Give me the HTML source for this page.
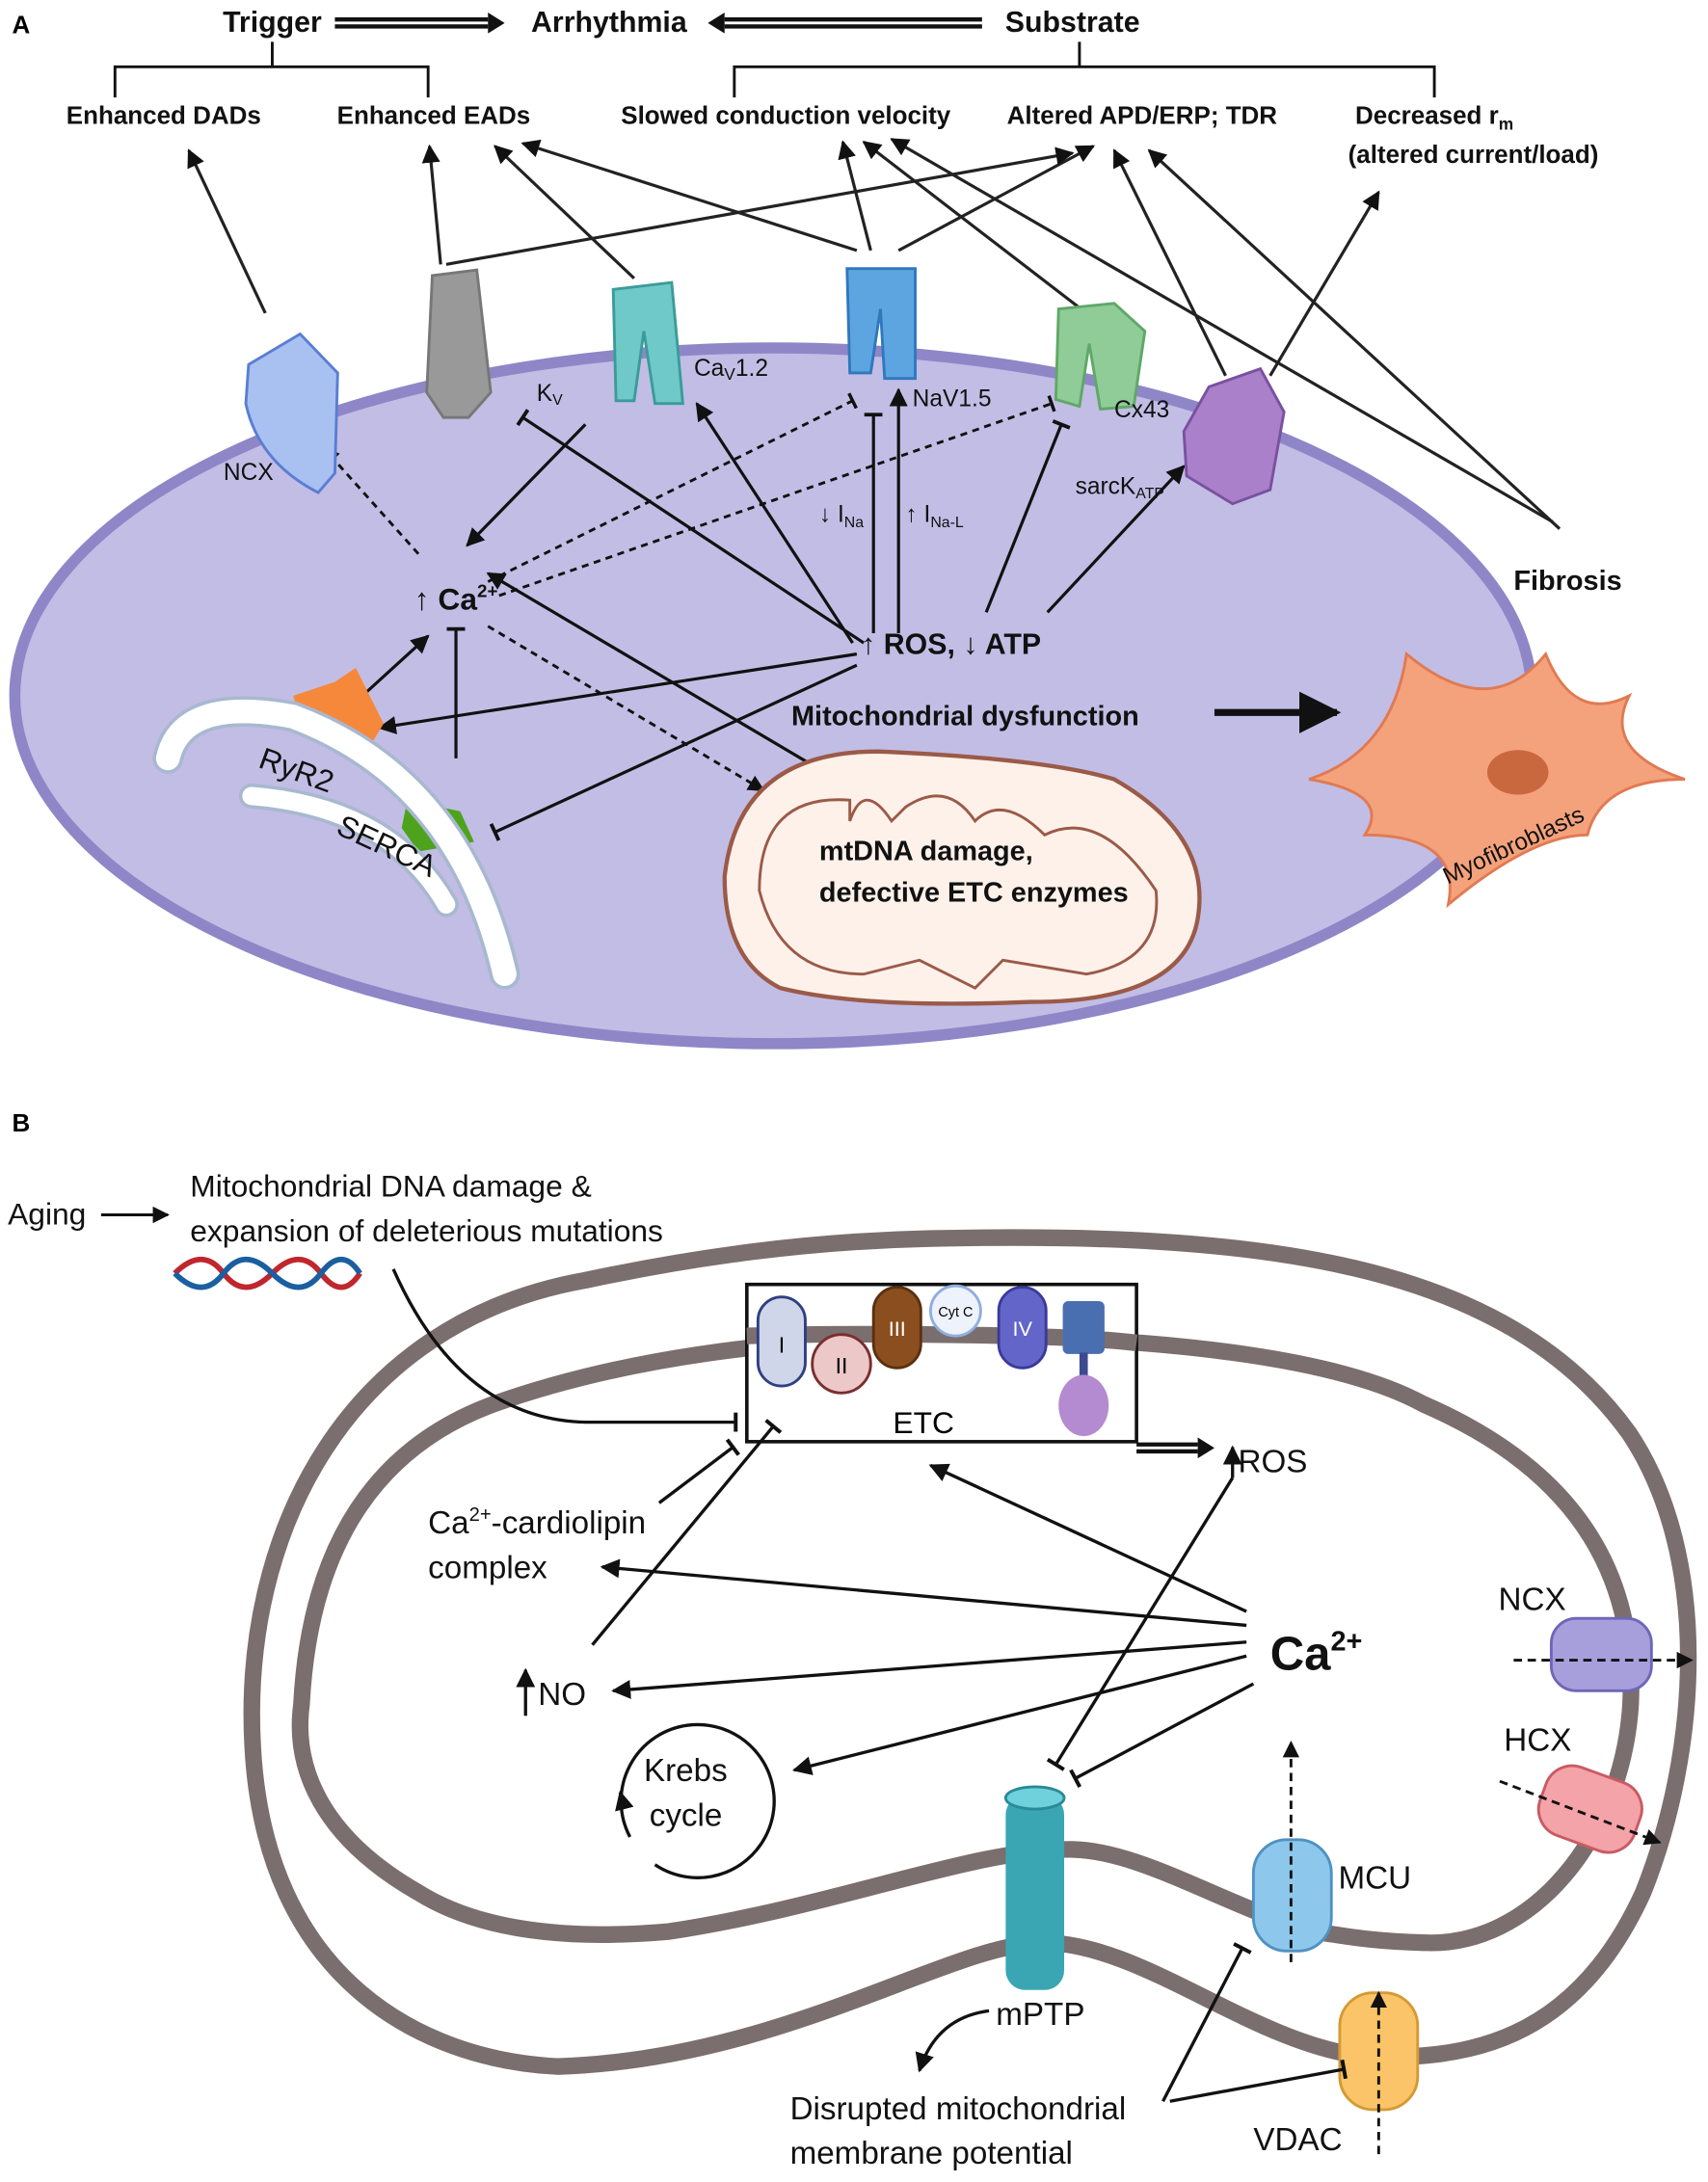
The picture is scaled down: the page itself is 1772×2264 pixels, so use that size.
<!DOCTYPE html>
<html><head><meta charset="utf-8"><style>
html,body{margin:0;padding:0;background:#fff}
svg{display:block}
text{font-family:"Liberation Sans",sans-serif}
.b{font-weight:bold}
</style></head><body>
<svg width="1772" height="2264" viewBox="0 0 1226 1568" xmlns="http://www.w3.org/2000/svg">
<defs>
<marker id="ah" viewBox="0 0 10 10" refX="9" refY="5" markerWidth="6" markerHeight="6" orient="auto"><path d="M0,0L10,5L0,10z" fill="#111"/></marker>
<marker id="tb" viewBox="0 0 10 10" refX="5" refY="5" markerWidth="6" markerHeight="6" orient="auto"><path d="M5,0V10" stroke="#111" stroke-width="2"/></marker>
</defs>
<text x="8" y="24" class="b" font-size="18">A</text>
<g class="b" font-size="21" fill="#111">
<text x="195" y="23" text-anchor="middle" class="b">Trigger</text>
<text x="437" y="23" text-anchor="middle" class="b">Arrhythmia</text>
<text x="770" y="23" text-anchor="middle" class="b">Substrate</text>
</g>
<path d="M240,14H350M240,19H350" stroke="#111" stroke-width="3"/><path d="M350,9L362,16.5L350,24z" fill="#111"/>
<path d="M520,14H705M520,19H705" stroke="#111" stroke-width="3"/><path d="M520,9L508,16.5L520,24z" fill="#111"/>
<path d="M82,70V48H307V70M195,48V30M527,70V48H1030V70M775,48V30" fill="none" stroke="#111" stroke-width="2"/>
<g font-size="18" font-weight="bold" fill="#111" text-anchor="middle">
<text x="117" y="89" class="b">Enhanced DADs</text>
<text x="311" y="89" class="b">Enhanced EADs</text>
<text x="564" y="89" class="b">Slowed conduction velocity</text>
<text x="820" y="89" class="b">Altered APD/ERP; TDR</text>
<text x="1030" y="89" class="b">Decreased r<tspan font-size="12" dy="4">m</tspan></text>
<text x="1058" y="117" class="b">(altered current/load)</text>
</g>
<ellipse cx="555" cy="500" rx="545" ry="250" fill="#c2bde5" stroke="#8f86c8" stroke-width="8"/>
<g stroke="#222" stroke-width="2.2" fill="none" marker-end="url(#ah)">
<line x1="190" y1="225" x2="135" y2="108"/>
<line x1="316" y1="190" x2="308" y2="105"/>
<line x1="455" y1="200" x2="355" y2="105"/>
<line x1="615" y1="180" x2="375" y2="103"/>
<line x1="625" y1="180" x2="605" y2="102"/>
<line x1="645" y1="180" x2="785" y2="105"/>
<line x1="320" y1="190" x2="770" y2="110"/>
<line x1="780" y1="225" x2="620" y2="102"/>
<line x1="880" y1="270" x2="800" y2="108"/>
<line x1="912" y1="270" x2="990" y2="138"/>
<line x1="1115" y1="375" x2="640" y2="100"/>
<line x1="1120" y1="380" x2="825" y2="108"/>
</g>
<g stroke="#111" stroke-width="2.2" fill="none">
<line x1="620" y1="462" x2="375" y2="300" marker-end="url(#tb)"/>
<line x1="420" y1="305" x2="335" y2="392" marker-end="url(#ah)"/>
<line x1="612" y1="462" x2="500" y2="290" marker-end="url(#ah)"/>
<line x1="627" y1="455" x2="627" y2="298" marker-end="url(#tb)"/>
<line x1="645" y1="455" x2="645" y2="280" marker-end="url(#ah)"/>
<line x1="708" y1="440" x2="762" y2="305" marker-end="url(#tb)"/>
<line x1="752" y1="440" x2="850" y2="335" marker-end="url(#ah)"/>
<line x1="615" y1="470" x2="272" y2="523" marker-end="url(#ah)"/>
<line x1="615" y1="478" x2="355" y2="598" marker-end="url(#tb)"/>
<line x1="580" y1="548" x2="350" y2="412" marker-end="url(#ah)"/>
<line x1="262" y1="498" x2="307" y2="457" marker-end="url(#ah)"/>
<line x1="327" y1="545" x2="327" y2="452" marker-end="url(#tb)"/>
<line x1="872" y1="512" x2="960" y2="512" stroke-width="5" marker-end="url(#ah)"/>
</g>
<g stroke="#111" stroke-width="2" fill="none" stroke-dasharray="5,4">
<line x1="300" y1="398" x2="232" y2="322" marker-end="url(#ah)"/>
<line x1="350" y1="418" x2="612" y2="288" marker-end="url(#tb)"/>
<line x1="358" y1="428" x2="755" y2="290" marker-end="url(#tb)"/>
<line x1="350" y1="450" x2="548" y2="568" marker-end="url(#ah)"/>
</g>
<path d="M178,262 L215,240 L242,268 L240,340 L228,354 Q185,332 176,290z" fill="#a8c1f0" stroke="#5a7dd4" stroke-width="2"/>
<path d="M310,198 L342,194 L352,282 L336,300 L318,300 L306,282z" fill="#999" stroke="#777" stroke-width="2"/>
<path d="M440,208 L482,203 L490,290 L470,290 L462,238 L455,288 L442,288z" fill="#6fc9c8" stroke="#3a9c9a" stroke-width="2"/>
<path d="M608,193 L657,193 L657,272 L635,272 L632,222 L625,268 L610,268z" fill="#5da5e0" stroke="#2f78be" stroke-width="2"/>
<path d="M760,222 L800,218 L822,238 L814,292 L790,294 L782,247 L775,292 L758,287z" fill="#8fcc98" stroke="#5fa868" stroke-width="2"/>
<path d="M868,278 L905,265 L922,296 L912,352 L885,362 L852,342 L850,310z" fill="#a980c9" stroke="#7a50a0" stroke-width="2"/>
<path d="M240,490 L255,480 L275,520 L260,545 L215,515 L210,500z" fill="#f5883a"/>
<path d="M292,575 L330,583 L340,605 L300,612 L288,595z" fill="#4ea31c"/>
<path d="M120,545 Q130,500 210,515 Q330,560 362,700" fill="none" stroke="#a8b8d0" stroke-width="22" stroke-linecap="round"/>
<path d="M120,545 Q130,500 210,515 Q330,560 362,700" fill="none" stroke="#fff" stroke-width="17" stroke-linecap="round"/>
<path d="M180,572 Q280,580 320,650" fill="none" stroke="#a8b8d0" stroke-width="18" stroke-linecap="round"/>
<path d="M180,572 Q280,580 320,650" fill="none" stroke="#fff" stroke-width="13" stroke-linecap="round"/>
<path d="M520,630 Q530,540 630,540 Q750,545 800,560 Q870,600 860,660 Q850,720 740,720 Q620,725 560,710 Q520,690 520,630z" fill="#fdf1ea" stroke="#9b5a48" stroke-width="3"/>
<path d="M545,640 Q545,570 610,575 L610,590 Q620,560 640,590 L650,580 Q680,560 700,590 Q720,570 750,600 Q790,580 830,640 Q835,690 780,700 L720,690 L700,710 L660,690 L620,700 Q560,700 545,640z" fill="none" stroke="#9b5a48" stroke-width="2"/>
<path d="M1010,470 Q1070,520 1110,470 Q1130,520 1170,500 Q1150,540 1210,560 Q1150,560 1140,600 Q1100,600 1040,650 Q1050,600 980,600 Q1000,570 940,560 Q1000,540 1010,470z" fill="#f4a27c" stroke="#e07a52" stroke-width="2"/>
<ellipse cx="1090" cy="555" rx="22" ry="16" fill="#c9673e"/>
<g font-size="17" fill="#111">
<text x="160" y="345">NCX</text>
<text x="385" y="288">K<tspan font-size="11" dy="3">V</tspan></text>
<text x="498" y="270">Ca<tspan font-size="12" dy="3">V</tspan><tspan dy="-3">1.2</tspan></text>
<text x="655" y="292">NaV1.5</text>
<text x="800" y="300">Cx43</text>
<text x="772" y="355">sarcK<tspan font-size="11" dy="3">ATP</tspan></text>
<text x="588" y="375">↓ I<tspan font-size="11" dy="4">Na</tspan></text>
<text x="650" y="375">↑ I<tspan font-size="11" dy="4">Na-L</tspan></text>
<text x="185" y="560" font-size="22" transform="rotate(20 210 553)">RyR2</text>
<text x="240" y="612" font-size="22" transform="rotate(25 270 605)">SERCA</text>
<text x="1025" y="610" transform="rotate(-25 1090 590)">Myofibroblasts</text>
</g>
<g font-weight="bold" fill="#111">
<text x="297" y="438" font-size="22" class="b">↑ Ca<tspan font-size="13" dy="-9">2+</tspan></text>
<text x="618" y="470" font-size="21" class="b">↑ ROS, ↓ ATP</text>
<text x="568" y="521" font-size="20" class="b">Mitochondrial dysfunction</text>
<text x="1087" y="424" font-size="20" class="b">Fibrosis</text>
<text x="588" y="618" font-size="20" class="b">mtDNA damage,</text>
<text x="588" y="648" font-size="20" class="b">defective ETC enzymes</text>
</g>
<text x="8" y="813" class="b" font-size="18">B</text>
<g font-size="22" fill="#111">
<text x="5" y="880">Aging</text>
<text x="136" y="860">Mitochondrial DNA damage  &amp;</text>
<text x="136" y="892">expansion of deleterious mutations</text>
</g>
<line x1="72" y1="873" x2="120" y2="873" stroke="#111" stroke-width="2" marker-end="url(#ah)"/>
<path d="M125,915 Q145,895 160,915 T195,915 T230,915 T258,915" fill="none" stroke="#c0262d" stroke-width="4"/>
<path d="M125,915 Q145,935 160,915 T195,915 T230,915 T258,915" fill="none" stroke="#1a5fa0" stroke-width="4"/>
<path d="M668,890 C900,885 1080,905 1170,1030 C1230,1120 1220,1260 1180,1360 C1130,1470 1050,1480 982,1478 C900,1470 820,1395 747,1396 C680,1398 560,1480 400,1485 C300,1480 190,1420 181,1256 C172,1100 250,950 420,920 C500,903 580,892 668,890z" fill="none" stroke="#7b6e6e" stroke-width="12"/>
<path d="M676,960 C830,960 960,975 1022,1009 C1140,1060 1175,1140 1171,1225 C1165,1320 1100,1400 1022,1396 C980,1395 960,1390 943,1388 C880,1370 820,1330 770,1329 C700,1328 600,1370 480,1388 C400,1395 340,1385 300,1360 C230,1320 210,1270 216,1225 C222,1110 270,1040 354,1009 C450,975 560,962 676,960z" fill="none" stroke="#7b6e6e" stroke-width="12"/>
<rect x="536" y="923" width="280" height="113" fill="#fff" stroke="#111" stroke-width="2.5"/>
<path d="M536,960 C600,958 760,958 816,965" stroke="#7b6e6e" stroke-width="12" fill="none"/>
<rect x="544" y="932" width="34" height="64" rx="17" fill="#cfd6ea" stroke="#2f3f80" stroke-width="2"/><text x="561" y="972" text-anchor="middle" font-size="16">I</text>
<circle cx="604" cy="980" r="21" fill="#ecc8c8" stroke="#7a2e2e" stroke-width="2"/><text x="604" y="987" text-anchor="middle" font-size="16">II</text>
<rect x="627" y="925" width="34" height="58" rx="17" fill="#8b4f1f" stroke="#5a3010" stroke-width="2"/><text x="644" y="960" text-anchor="middle" font-size="15" fill="#fff">III</text>
<circle cx="686" cy="942" r="18" fill="#eef2fb" stroke="#8faee0" stroke-width="2"/><text x="686" y="946" text-anchor="middle" font-size="10">Cyt C</text>
<rect x="717" y="925" width="34" height="58" rx="17" fill="#6465c8" stroke="#3a3a9a" stroke-width="2"/><text x="734" y="960" text-anchor="middle" font-size="15" fill="#fff">IV</text>
<rect x="763" y="935" width="30" height="38" rx="4" fill="#4a6fb0"/>
<rect x="775" y="972" width="6" height="25" fill="#3c4a90"/>
<ellipse cx="778" cy="1010" rx="18" ry="22" fill="#b48ad0"/>
<text x="663" y="1030" text-anchor="middle" font-size="22">ETC</text>
<path d="M816,1038H860M816,1043H860" stroke="#111" stroke-width="3"/><path d="M860,1033L872,1040.5L860,1048z" fill="#111"/>
<rect x="1114" y="1163" width="72" height="52" rx="18" fill="#a79fdc" stroke="#6f66b8" stroke-width="2"/>
<g transform="rotate(20 1142 1300)"><rect x="1106" y="1274" width="72" height="52" rx="20" fill="#f4a3a8" stroke="#c85b63" stroke-width="2"/></g>
<rect x="900" y="1322" width="56" height="80" rx="24" fill="#8dc8ec" stroke="#4f92c3" stroke-width="2"/>
<rect x="962" y="1432" width="56" height="84" rx="24" fill="#fbc468" stroke="#d49a33" stroke-width="2"/>
<rect x="722" y="1290" width="42" height="140" rx="14" fill="#3aa6b3"/>
<ellipse cx="743" cy="1292" rx="21" ry="8" fill="#6fd1dc" stroke="#2a8a96" stroke-width="2"/>
<g stroke="#111" stroke-width="2.3" fill="none">
<path d="M282,912 Q330,1020 420,1022 L528,1022" marker-end="url(#tb)"/>
<line x1="473" y1="1080" x2="526" y2="1040" marker-end="url(#tb)"/>
<line x1="425" y1="1182" x2="555" y2="1025" marker-end="url(#tb)"/>
<line x1="895" y1="1158" x2="668" y2="1053" marker-end="url(#ah)"/>
<line x1="895" y1="1168" x2="432" y2="1126" marker-end="url(#ah)"/>
<line x1="895" y1="1180" x2="440" y2="1215" marker-end="url(#ah)"/>
<line x1="895" y1="1190" x2="570" y2="1272" marker-end="url(#ah)"/>
<line x1="900" y1="1210" x2="772" y2="1278" marker-end="url(#tb)"/>
<line x1="885" y1="1062" x2="758" y2="1268" marker-end="url(#tb)"/>
<line x1="885" y1="1062" x2="885" y2="1040" marker-end="url(#ah)"/>
<line x1="377" y1="1233" x2="377" y2="1200" marker-end="url(#ah)"/>
<line x1="835" y1="1510" x2="892" y2="1400" marker-end="url(#tb)"/>
<line x1="840" y1="1510" x2="965" y2="1487" marker-end="url(#tb)"/>
<path d="M710,1445 Q672,1450 660,1488" marker-end="url(#ah)"/>
<path d="M452,1320 A55,55 0 1 1 470,1340" />
<path d="M448,1300 L445,1288" marker-end="url(#ah)"/>
</g>
<g stroke="#111" stroke-width="2" fill="none" stroke-dasharray="6,4">
<line x1="1087" y1="1193" x2="1215" y2="1193" marker-end="url(#ah)"/>
<line x1="1077" y1="1280" x2="1192" y2="1324" marker-end="url(#ah)"/>
<line x1="927" y1="1410" x2="927" y2="1252" marker-end="url(#ah)"/>
<line x1="990" y1="1548" x2="990" y2="1432" marker-end="url(#ah)"/>
</g>
<g font-size="23" fill="#111">
<text x="307" y="1102">Ca<tspan font-size="14" dy="-9">2+</tspan><tspan dy="9">-cardiolipin</tspan></text>
<text x="307" y="1134">complex</text>
<text x="386" y="1225">NO</text>
<text x="889" y="1058">ROS</text>
<text x="462" y="1280">Krebs</text>
<text x="466" y="1312">cycle</text>
<text x="1076" y="1157">NCX</text>
<text x="1080" y="1258">HCX</text>
<text x="961" y="1357">MCU</text>
<text x="715" y="1455">mPTP</text>
<text x="567" y="1523">Disrupted mitochondrial</text>
<text x="567" y="1555">membrane potential</text>
<text x="900" y="1545">VDAC</text>
</g>
<text x="912" y="1200" font-size="34" font-weight="bold" fill="#111" class="b">Ca<tspan font-size="20" dy="-14">2+</tspan></text>
</svg>
</body></html>
